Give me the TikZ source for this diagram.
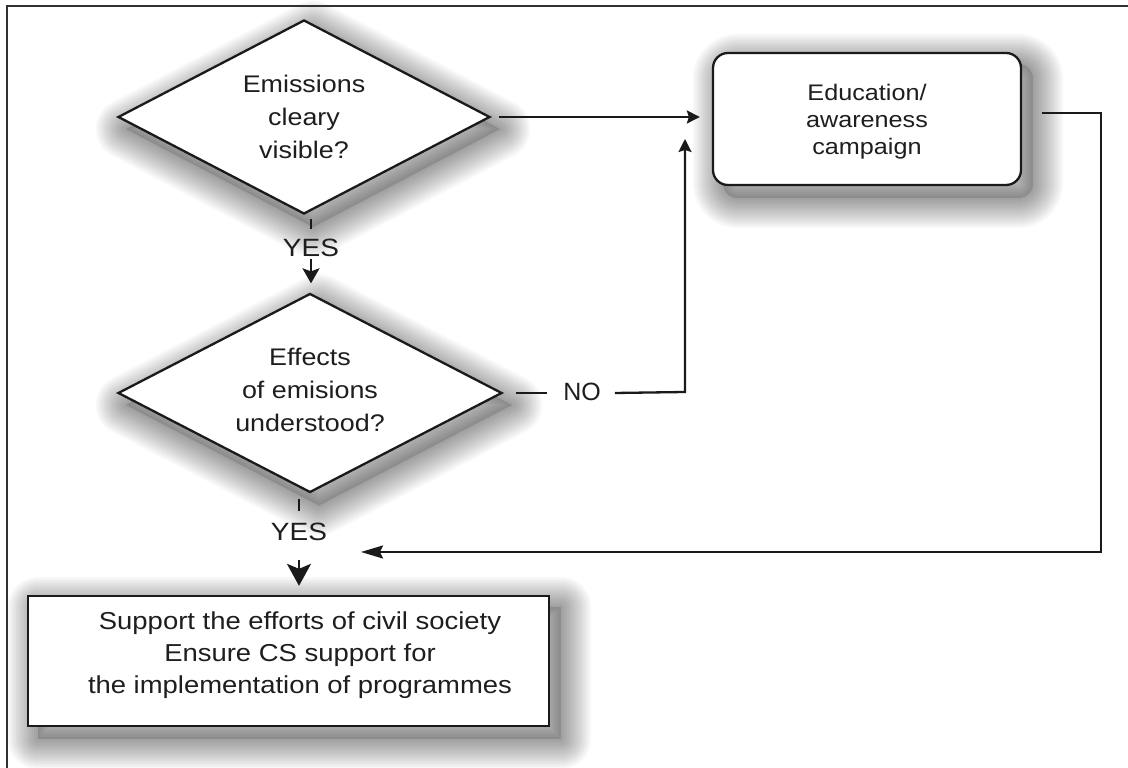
\documentclass[tikz,border=0pt]{standalone}
\usepackage{fontspec}
\setmainfont{Liberation Sans}[FakeStretch=1.12]
\newfontfamily\plainsans{Liberation Sans}
\usetikzlibrary{shapes.geometric,arrows.meta,backgrounds}
\definecolor{ink}{HTML}{1A1A1A}
\definecolor{txt}{HTML}{1E1E1E}
% soft drop shadows, built from stacked translucent strokes
\tikzset{
  shadowfill/.style={black,opacity=0.12},
  shadowline/.style={black,opacity=0.028,line join=round}
}
\newcommand\diashadow[1]{%
  \fill[shadowfill] ([shift={(9pt,-12pt)}]#1.north) -- ([shift={(9pt,-12pt)}]#1.east)
    -- ([shift={(9pt,-12pt)}]#1.south) -- ([shift={(9pt,-12pt)}]#1.west) -- cycle;
  \foreach \w in {4,8,...,60}{%
    \draw[shadowline,line width=\w pt] ([shift={(9pt,-12pt)}]#1.north) -- ([shift={(9pt,-12pt)}]#1.east)
      -- ([shift={(9pt,-12pt)}]#1.south) -- ([shift={(9pt,-12pt)}]#1.west) -- cycle;}}
\newcommand\boxshadow[2]{%
  \fill[shadowfill,rounded corners=#2] ([shift={(11pt,-12pt)}]#1.south west) rectangle ([shift={(11pt,-12pt)}]#1.north east);
  \foreach \w in {4,8,...,60}{%
    \draw[shadowline,rounded corners=#2,line width=\w pt] ([shift={(11pt,-12pt)}]#1.south west) rectangle ([shift={(11pt,-12pt)}]#1.north east);}}
\begin{document}
\begin{tikzpicture}[x=1pt,y=1pt,
  decision/.style={diamond,draw=ink,line width=2.3pt,fill=white,inner sep=0pt},
  roundbox/.style={rectangle,rounded corners=15pt,draw=ink,line width=2.3pt,fill=white},
  plainbox/.style={rectangle,draw=ink,line width=2.3pt,fill=white},
  bodytext/.style={align=center,inner sep=0pt,text=txt,font=\fontsize{24}{33}\selectfont},
  edutext/.style={align=center,inner sep=0pt,text=txt,font=\fontsize{22.5}{27}\selectfont},
  answer/.style={inner sep=0pt,text=txt,text height=17pt,text depth=0pt},
  wire/.style={draw=ink,line width=2.3pt},
  arr/.style={wire,-{Stealth[length=13pt,width=13pt,inset=2pt]}}
]
\useasboundingbox (0,0) rectangle (1128,768);
% outer frame, running off the right and bottom edges
\draw[draw=ink!90,line width=2.6pt] (7,-20) -- (7,762) -- (1150,762);

% shapes
\node[decision,minimum width=372pt,minimum height=194pt] (d1) at (304,651) {};
\node[bodytext] (d1t) at (304,651) {Emissions\\cleary\\visible?};

\node[decision,minimum width=384pt,minimum height=199pt] (d2) at (310,375) {};
\node[bodytext] (d2t) at (310,378) {Effects\\of emisions\\understood?};

\node[roundbox,minimum width=308pt,minimum height=132pt] (edu) at (867,649) {};
\node[edutext] (edut) at (867,646) {Education/\\awareness\\campaign};

\node[plainbox,minimum width=521pt,minimum height=130pt] (act) at (288.5,107) {};
\node[bodytext,font=\fontsize{24.5}{32}\selectfont] (actt) at (300,113)
  {Support the efforts of civil society\\Ensure CS support for\\the implementation of programmes};

% shadows beneath the shapes
\begin{scope}[on background layer]
  \fill[white] (0,0) rectangle (1128,768);
  \diashadow{d1}
  \diashadow{d2}
  \boxshadow{edu}{15pt}
  \boxshadow{act}{0pt}
\end{scope}

% YES from the first decision
\node[answer,font=\fontsize{25}{25}\selectfont] (yes1) at (311,520) {YES};
\draw[wire] ([yshift=10pt]yes1.north) -- ++(0,10);
\draw[wire,-{Stealth[length=15pt,width=17pt,inset=3pt]}]
  ([yshift=-2pt]yes1.south) -- ([yshift=9pt]yes1.south |- d2.north);

% YES from the second decision
\node[answer,font=\fontsize{25}{25}\selectfont] (yes2) at (299,236) {YES};
\draw[wire] ([yshift=12pt]yes2.north) -- ++(0,12);
\draw[wire,-{Stealth[length=22pt,width=24pt,inset=5pt]}]
  ([yshift=-19pt]yes2.south) -- ([yshift=9pt]yes2.south |- act.north);

% first decision to the campaign
\draw[arr] ([xshift=8pt]d1.east) -- ([xshift=-12pt]edu.west |- d1.east);

% NO from the second decision up to the campaign
\node[answer,font=\plainsans\fontsize{25}{25}\selectfont] (no) at (582,376) {NO};
\draw[wire] ([xshift=13pt]d2.east) -- ++(31,0);
\coordinate (noup) at (685,376);
\draw[arr] ([xshift=14pt]no.east |- d2.east) -- (noup) -- (685,629);

% campaign back to the action box
\coordinate (ret) at (361,216);
\draw[wire,-{Stealth[length=22pt,width=13pt,inset=3pt]}]
  ([xshift=20pt,yshift=6pt]edu.east) -- (1101,655) -- (1101,216) -- (ret);
\end{tikzpicture}
\end{document}
